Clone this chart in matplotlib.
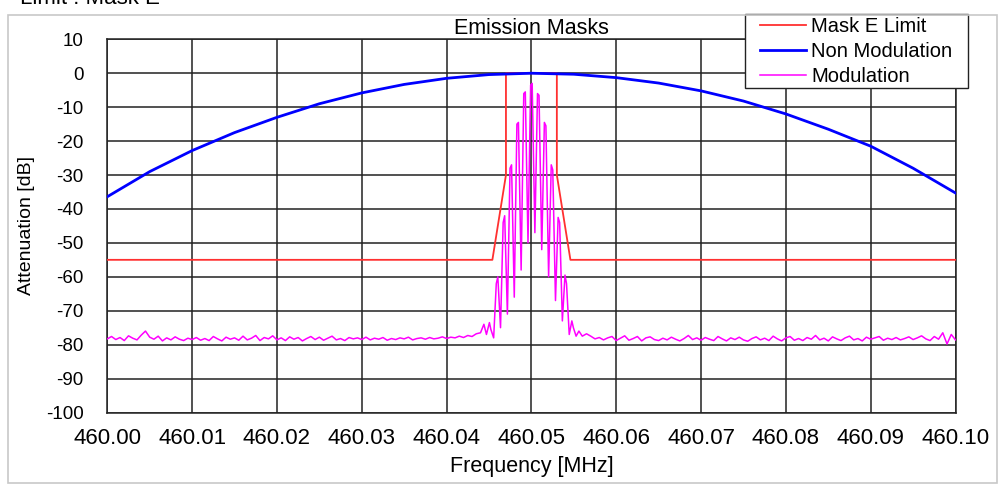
import numpy as np
import matplotlib
matplotlib.use("Agg")
import matplotlib.pyplot as plt
from matplotlib.ticker import FormatStrFormatter
from matplotlib.patches import Rectangle

plt.rcParams['font.family'] = ['Liberation Sans', 'DejaVu Sans']
plt.rcParams['axes.unicode_minus'] = False

# Mask E limit
mask_freq = [460.0, 460.0454, 460.047, 460.047, 460.053, 460.053, 460.0546, 460.1]
mask_db = [-55, -55, -30, 0, 0, -30, -55, -55]

# Non modulated carrier
carrier_freq = [460.000, 460.005, 460.010, 460.015, 460.020, 460.025, 460.030,
                460.035, 460.040, 460.045, 460.050, 460.055, 460.060, 460.065,
                460.070, 460.075, 460.080, 460.085, 460.090, 460.095, 460.100]
carrier_db = [-36.4, -29.0, -22.8, -17.5, -13.0, -9.0, -5.8,
              -3.3, -1.5, -0.4, 0.0, -0.3, -1.3, -2.9,
              -5.2, -8.2, -12.0, -16.5, -21.5, -28.0, -35.3]

# Modulated spectrum: noise floor left of the channel
noise_left_db = [-78.3, -77.6, -78.5, -77.9, -78.8, -77.4, -78.1, -78.6, -77.2, -76.0,
                 -77.8, -78.4, -77.5, -78.9, -78.0, -78.6, -77.7, -78.4, -78.8, -78.1,
                 -78.5, -77.9, -78.7, -78.2, -78.8, -77.6, -78.3, -78.9, -77.8, -78.4,
                 -78.0, -78.7, -77.5, -78.6, -78.1, -77.3, -78.8, -77.9, -78.3, -77.4,
                 -78.6, -78.0, -78.8, -77.7, -78.4, -77.9, -78.9, -78.2, -77.6, -78.5,
                 -77.8, -78.7, -78.1, -77.5, -78.6, -78.2, -78.8, -77.9, -78.3, -78.0,
                 -78.5, -77.8, -78.6, -78.1, -78.4, -77.9, -78.7, -78.2, -78.5, -78.0,
                 -78.3, -77.8, -78.6, -78.2, -78.0, -78.4, -77.9, -78.3, -78.1, -77.7,
                 -78.2, -77.8, -78.0, -77.5, -77.9, -77.3, -77.6, -76.8]

# in-channel spikes
band_freq = [460.0440, 460.0444, 460.0447, 460.04505, 460.04522, 460.04555,
             460.04586, 460.04604, 460.04636, 460.04667, 460.04685, 460.04717,
             460.04748, 460.04766, 460.04798, 460.04829, 460.04847, 460.04879,
             460.04910, 460.04928, 460.04960, 460.04991, 460.05009, 460.05041,
             460.05072, 460.05090, 460.05122, 460.05153, 460.05171, 460.05203,
             460.05234, 460.05252, 460.05284, 460.05315, 460.05333, 460.05365,
             460.05396, 460.05414, 460.05446, 460.05477, 460.05495, 460.05527,
             460.0556, 460.0560]
band_db = [-76.5, -74.0, -77.0, -73.5, -75.5, -78.0,
           -62.0, -60.0, -75.0, -44.0, -42.0, -71.0,
           -28.0, -27.0, -66.0, -15.0, -14.5, -58.0,
           -6.0, -5.5, -50.0, -3.5, -3.0, -47.0,
           -6.0, -6.5, -52.0, -14.5, -15.5, -60.0,
           -27.0, -28.5, -67.0, -42.5, -44.0, -73.0,
           -59.5, -62.0, -77.0, -73.0, -75.0, -77.5,
           -76.0, -77.5]

# noise floor right of the channel
noise_right_db = [-76.8, -77.5, -78.3, -77.9, -78.6, -78.0, -77.6, -78.8, -78.1, -77.4,
                  -78.7, -78.2, -77.6, -78.9, -78.0, -77.7, -78.5, -78.8, -78.1, -78.6,
                  -77.8, -78.4, -78.9, -78.2, -77.3, -78.5, -78.0, -78.7, -77.9, -78.4,
                  -78.8, -77.6, -78.3, -78.9, -78.0, -78.5, -77.8, -78.6, -79.0, -78.2,
                  -77.7, -78.6, -78.1, -78.8, -77.5, -78.3, -78.9, -78.0, -77.6, -78.7,
                  -78.2, -78.8, -77.9, -78.4, -77.3, -78.6, -78.1, -78.9, -77.7, -78.3,
                  -78.8, -78.0, -77.5, -78.6, -78.2, -78.9, -77.8, -78.4, -78.0, -77.6,
                  -78.7, -78.1, -78.5, -77.9, -78.6, -78.2, -77.7, -78.5, -78.0, -77.4,
                  -78.3, -78.8, -77.6, -78.4, -76.5, -79.8, -77.0, -78.6]

noise_left_freq = np.linspace(460.0, 460.0435, len(noise_left_db))
noise_right_freq = np.linspace(460.0565, 460.1, len(noise_right_db))
mod_freq = np.concatenate([noise_left_freq, band_freq, noise_right_freq])
mod_db = np.concatenate([noise_left_db, band_db, noise_right_db])

xticks = [460.00, 460.01, 460.02, 460.03, 460.04, 460.05, 460.06, 460.07, 460.08, 460.09, 460.10]
yticks = [10, 0, -10, -20, -30, -40, -50, -60, -70, -80, -90, -100]

W, H = 1002, 487
fig = plt.figure(figsize=(W / 100, H / 100), dpi=100)
ax = fig.add_axes([107.3 / W, 1 - 412.5 / H, 848.2 / W, 373.2 / H])

# light outer frame
fig.patches.append(Rectangle((8 / W, 1 - 483 / H), 989 / W, 468 / H, transform=fig.transFigure,
                             fill=False, edgecolor='#c8c8c8', lw=1.2))

ax.plot(mask_freq, mask_db, color='#ff3030', lw=1.3, label='Mask E Limit', zorder=4)
ax.plot(carrier_freq, carrier_db, color='#0000ff', lw=2.0, label='Non Modulation', zorder=5)
ax.plot(mod_freq, mod_db, color='#ff00ff', lw=1.1, label='Modulation', zorder=3)

ax.set_xlim(460.0, 460.1)
ax.set_ylim(-100, 10)
ax.set_xticks(xticks)
ax.set_yticks(yticks)
ax.xaxis.set_major_formatter(FormatStrFormatter('%.2f'))
ax.grid(True, color='#222222', lw=1.1)
ax.set_axisbelow(True)
ax.tick_params(axis='x', length=0, pad=11, labelsize=16)
ax.tick_params(axis='y', length=0, pad=17, labelsize=13.5)
for s in ax.spines.values():
    s.set_color('#222222')
    s.set_linewidth(1.1)

ax.set_xlabel('Frequency [MHz]', fontsize=15.5, labelpad=5)
ax.set_ylabel('Attenuation [dB]', fontsize=14, labelpad=8)
ax.set_title('Emission Masks', fontsize=15.5, pad=1)

# legend box drawn by hand so the padding matches
box = Rectangle((745 / W, 1 - 88 / H), 223 / W, 74 / H, transform=fig.transFigure,
                facecolor='white', edgecolor='#222222', lw=1.0, zorder=9, clip_on=False)
ax.add_artist(box)
leg = ax.legend(loc='upper left', bbox_to_anchor=(760 / W, 1 - 17 / H),
                bbox_transform=fig.transFigure, fontsize=14.5, frameon=False,
                borderpad=0, labelspacing=0.3, handlelength=2.3, handletextpad=0.25,
                borderaxespad=0)
leg.set_zorder(10)

fig.text(20 / W, 1 - 3.5 / H, 'Limit : Mask E', fontsize=16, va='baseline', ha='left')

fig.savefig('out.png', dpi=100)
